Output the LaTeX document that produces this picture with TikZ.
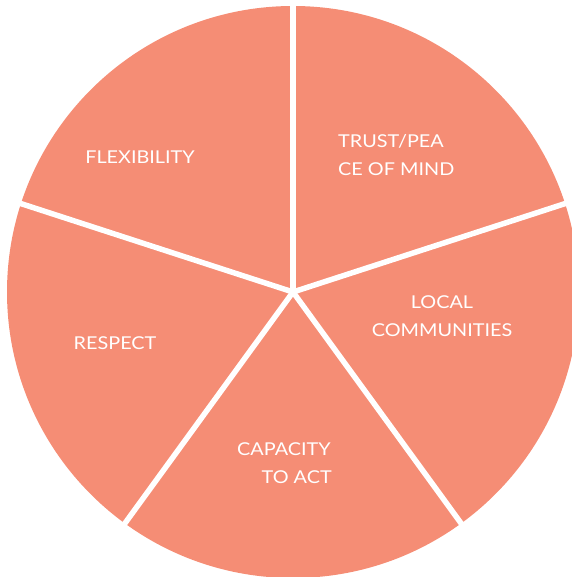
\documentclass[tikz,border=0pt]{standalone}
\usepackage{fontspec}
\setmainfont{Lato}[FakeStretch=1.12]
\usetikzlibrary{calc}
\definecolor{salmon}{HTML}{F58D75}
\begin{document}
\begin{tikzpicture}[x=1pt,y=-1pt,
  slicefill/.style={fill=salmon},
  divider/.style={draw=white,line width=5.5pt},
  lbl/.style={text=white,font=\fontsize{17.7}{28}\selectfont,inner sep=0pt}]
\useasboundingbox (0,0) rectangle (571,577);
\coordinate (c) at (293,292);
% disc
\fill[slicefill] (c) circle (286);
% rim points of the five dividers
\coordinate (r1) at ($(c)+(-90:292)$);
\coordinate (r2) at ($(c)+(-18:292)$);
\coordinate (r3) at ($(c)+(54:292)$);
\coordinate (r4) at ($(c)+(126:292)$);
\coordinate (r5) at ($(c)+(198:292)$);
\foreach \r in {r1,r2,r3,r4,r5}
  \draw[divider] (c) -- (\r);
% labels
\node[lbl] (flex) at (140,157) {FLEXIBILITY};
\node[lbl,anchor=west,align=left] (trust) at (338,155) {TRUST/PEA\\CE OF MIND};
\node[lbl,align=center] (local) at (442,316) {LOCAL\\COMMUNITIES};
\node[lbl] (resp) at (115,343) {RESPECT};
\node[lbl,anchor=west,align=left] (cap) at (237,463) {CAPACITY\\\hspace*{24.5pt}TO ACT};
\end{tikzpicture}
\end{document}
